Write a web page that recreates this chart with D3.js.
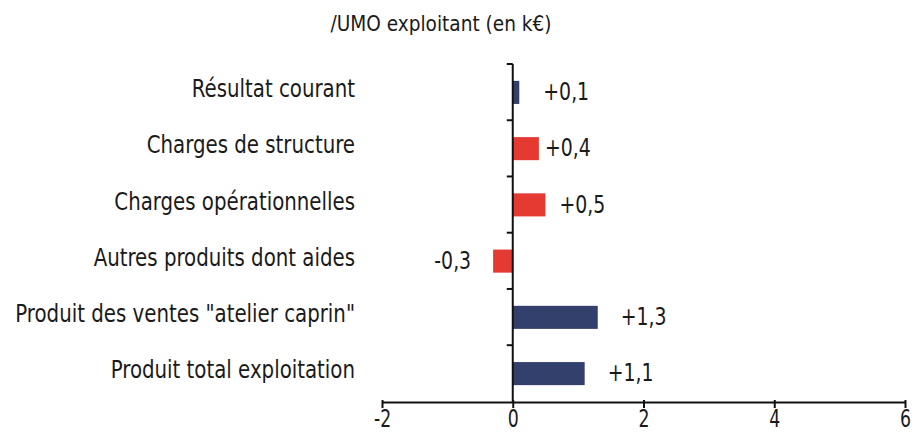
<!DOCTYPE html>
<html>
<head>
<meta charset="utf-8">
<script src="https://cdn.jsdelivr.net/npm/d3@7"></script>
<style>
  body { margin: 0; background: #fff; }
  text { font-family: "DejaVu Sans Condensed", "DejaVu Sans", sans-serif; fill: #1a1a1a; }
</style>
</head>
<body>
<div id="chart-area"></div>
<script>
// categories, top to bottom
const categories = [
    'Résultat courant',
    'Charges de structure',
    'Charges opérationnelles',
    'Autres produits dont aides',
    'Produit des ventes "atelier caprin"',
    'Produit total exploitation'
];
const values = [0.1, 0.4, 0.5, -0.3, 1.3, 1.1];
const valueLabels = ['+0,1', '+0,4', '+0,5', '-0,3', '+1,3', '+1,1'];
const barKind = ['resultat', 'charge', 'charge', 'charge', 'produit', 'produit'];
const xTicks = [-2, 0, 2, 4, 6];
const titleText = '/UMO exploitant (en k€)';

// manual label nudges (px), as in the original
const labelDx = [24, 6, 14, -22, 23, 23];

const colors = { resultat: '#33406b', produit: '#33406b', charge: '#e53a31' };
const squeeze = 0.88;

const svg = d3.select('#chart-area')
    .append('svg')
    .attr('width', 915)
    .attr('height', 433);

// X Scale
const x = d3.scaleLinear()
    .domain([-2, 6])
    .range([382, 905]);

// Y Scale
const y = d3.scaleBand()
    .domain(categories)
    .range([64, 402])
    .paddingInner(0.59)
    .paddingOuter(0.3);

// title
svg.append('text')
    .attr('transform', 'translate(441,31) scale(0.98,1)')
    .attr('text-anchor', 'middle')
    .style('font-size', '21px')
    .text(titleText);

// bars
svg.selectAll('rect.bar')
    .data(categories)
    .enter().append('rect')
    .attr('class', 'bar')
    .attr('x', (d, i) => x(Math.min(0, values[i])))
    .attr('y', d => y(d))
    .attr('width', (d, i) => Math.abs(x(values[i]) - x(0)))
    .attr('height', y.bandwidth())
    .attr('fill', (d, i) => colors[barKind[i]]);

// value labels
svg.selectAll('text.val')
    .data(categories)
    .enter().append('text')
    .attr('class', 'val')
    .attr('transform', (d, i) => 'translate(' + (x(values[i]) + labelDx[i]) + ',' + (y(d) + y.bandwidth() / 2 - 1) + ') scale(0.84,1)')
    .attr('dy', '0.35em')
    .attr('text-anchor', (d, i) => values[i] < 0 ? 'end' : 'start')
    .style('font-size', '25px')
    .text((d, i) => valueLabels[i]);

// X Axis
const xAxisGroup = svg.append('g')
    .attr('transform', 'translate(0,402)');
xAxisGroup.call(d3.axisBottom(x).tickValues(xTicks).tickSize(6).tickSizeOuter(0))
    .call(g => g.select('.domain').attr('stroke', '#111').attr('stroke-width', 2))
    .call(g => g.selectAll('.tick line').attr('stroke', '#111').attr('stroke-width', 2).attr('y1', -2))
    .selectAll('text')
    .attr('y', 0)
    .attr('dy', 0)
    .attr('transform', 'translate(0,25) scale(0.8,1)')
    .style('font-size', '24px')
    .style('font-family', '"DejaVu Sans Condensed", "DejaVu Sans", sans-serif')
    .attr('fill', '#1a1a1a')
    .text(d => d < 0 ? '-' + Math.abs(d) : d);

// Y Axis at zero, ticks between categories
const yAxisGroup = svg.append('g');
yAxisGroup.append('line')
    .attr('x1', x(0)).attr('x2', x(0))
    .attr('y1', 64).attr('y2', 402)
    .attr('stroke', '#111').attr('stroke-width', 2);
yAxisGroup.selectAll('line.sep')
    .data(d3.range(categories.length))
    .enter().append('line')
    .attr('class', 'sep')
    .attr('x1', x(0) - 6).attr('x2', x(0))
    .attr('y1', i => 64 + i * y.step())
    .attr('y2', i => 64 + i * y.step())
    .attr('stroke', '#111').attr('stroke-width', 2);

// category labels
svg.selectAll('text.cat')
    .data(categories)
    .enter().append('text')
    .attr('class', 'cat')
    .attr('transform', d => 'translate(355,' + (y(d) + y.bandwidth() / 2 - 4) + ') scale(' + squeeze + ',1)')
    .attr('dy', '0.35em')
    .attr('text-anchor', 'end')
    .style('font-size', '25px')
    .text(d => d);
</script>
</body>
</html>
